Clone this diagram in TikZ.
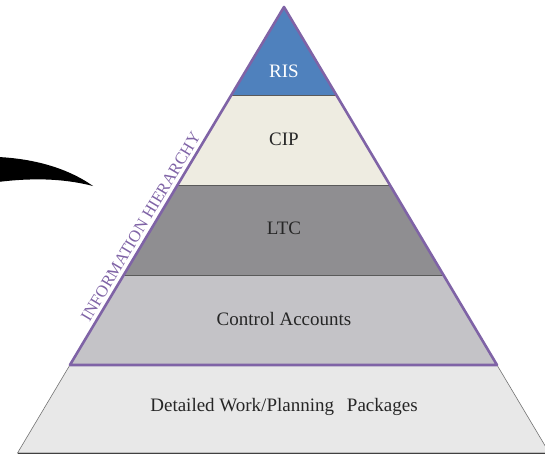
\documentclass[tikz,border=0pt]{standalone}
\usepackage{fontspec}
\setmainfont{Liberation Serif}
\usetikzlibrary{calc}
\definecolor{risblue}{HTML}{4F81BD}
\definecolor{cipcream}{HTML}{EEECE1}
\definecolor{ltcgray}{HTML}{8F8E91}
\definecolor{cagray}{HTML}{C4C3C7}
\definecolor{wpgray}{HTML}{E8E8E8}
\definecolor{purp}{HTML}{7F63A6}
\definecolor{sepgray}{HTML}{5A5A5A}
\tikzset{
  band/.style={draw=sepgray, line width=0.8pt},
  lbl/.style={font=\fontsize{19}{22}\selectfont, text=black!85},
  rim/.style={draw=purp, line width=2.6pt, line join=round},
}
\begin{document}
\begin{tikzpicture}[x=1pt,y=-1pt]
\useasboundingbox (0,0) rectangle (545,457);
% key points
\coordinate (apex) at (284,7);
\coordinate (l1) at (231.4,95);  \coordinate (r1) at (336.4,95);
\coordinate (l2) at (177.6,185); \coordinate (r2) at (389.9,185);
\coordinate (l3) at (123.7,275); \coordinate (r3) at (443.5,275);
\coordinate (l4) at (69.9,365);  \coordinate (r4) at (497.0,365);
\coordinate (l5) at (17.5,453);  \coordinate (r5) at (549.4,453);
% bottom trapezoid
\fill[wpgray] (l4) -- (r4) -- (r5) -- (l5) -- cycle;
\draw[draw=black!55, line width=0.6pt] (r4) -- (r5) -- (l5) -- (l4);
\draw[draw=black!75, line width=0.9pt] (l5) -- (r5);
% bands
\fill[cagray] (l3) -- (r3) -- (r4) -- (l4) -- cycle;
\fill[ltcgray] (l2) -- (r2) -- (r3) -- (l3) -- cycle;
\fill[cipcream] (l1) -- (r1) -- (r2) -- (l2) -- cycle;
\fill[risblue] (apex) -- (r1) -- (l1) -- cycle;
\draw[band] (l1) -- (r1);
\draw[band] (l2) -- (r2);
\draw[band] (l3) -- (r3);
% purple rim
\draw[rim] (apex) -- (r4) -- (l4) -- cycle;
% labels
\node[lbl, text=white] (ris) at (284,71) {RIS};
\node[lbl] (cip) at (284,139) {CIP};
\node[lbl] (ltc) at (284,228) {LTC};
\node[lbl] (ca) at (284,319) {Control Accounts};
\node[lbl] (wp) at (284,407) {Detailed Work/Planning\hspace{0.68em}Packages};
% side label
\node[font=\fontsize{16.7}{19}\selectfont, text=purp, rotate=59.1, anchor=south, inner sep=4.5pt]
  (info) at ($(l4)!0.372!(apex)$) {INFORMATION HIERARCHY};
% black swoosh
\fill[black] (-2,157) .. controls (40,159) and (72,171) .. (93,186)
  .. controls (62,178) and (30,178) .. (-2,182) -- cycle;
\end{tikzpicture}
\end{document}
